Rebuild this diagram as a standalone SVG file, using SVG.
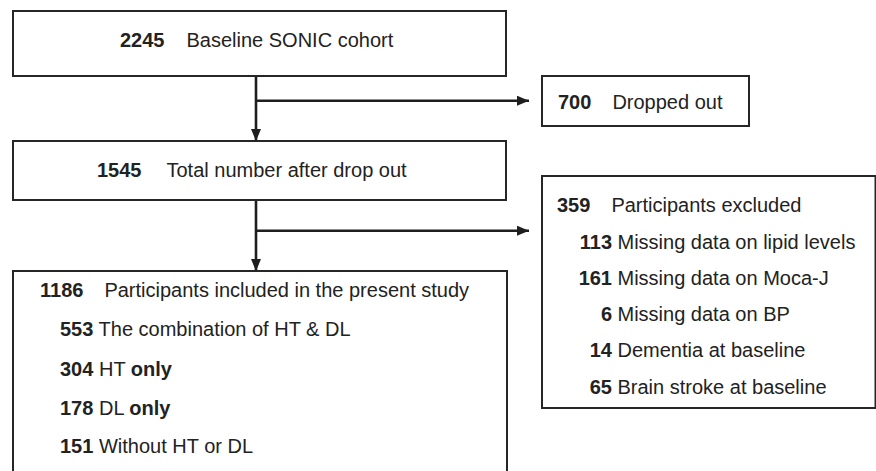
<svg xmlns="http://www.w3.org/2000/svg" width="876" height="471" viewBox="0 0 876 471">
  <style>
    .box { fill: #ffffff; stroke: #262626; stroke-width: 2; }
    .lbl { font-family: "Liberation Sans", Arial, Helvetica, sans-serif; font-size: 20px; fill: #222222; }
    .num { font-weight: bold; }
    .edge { fill: none; stroke: #1e1e1e; stroke-width: 2.6; }
  </style>
  <defs>
    <marker id="arrow" viewBox="0 0 12 10" refX="12" refY="5" markerWidth="12" markerHeight="10" markerUnits="userSpaceOnUse" orient="auto">
      <path d="M0,0 L12,5 L0,10 Z" fill="#1e1e1e"/>
    </marker>
  </defs>

  <rect width="876" height="471" fill="#ffffff"/>

  <!-- connectors -->
  <g id="connectors">
    <line class="edge" x1="256" y1="76" x2="256" y2="141" marker-end="url(#arrow)"/>
    <line class="edge" x1="256" y1="100.7" x2="529" y2="100.7" marker-end="url(#arrow)"/>
    <line class="edge" x1="256" y1="200" x2="256" y2="271" marker-end="url(#arrow)"/>
    <line class="edge" x1="256" y1="230.7" x2="529" y2="230.7" marker-end="url(#arrow)"/>
  </g>

  <!-- baseline cohort -->
  <g id="baseline">
    <rect class="box" x="13" y="11" width="493" height="65"/>
    <text class="lbl" x="120" y="47"><tspan class="num">2245</tspan><tspan dx="22">Baseline SONIC cohort</tspan></text>
  </g>

  <!-- after drop out -->
  <g id="after-dropout">
    <rect class="box" x="13" y="141" width="493" height="59"/>
    <text class="lbl" x="97" y="177"><tspan class="num">1545</tspan><tspan dx="25">Total number after drop out</tspan></text>
  </g>

  <!-- dropped out -->
  <g id="dropped">
    <rect class="box" x="542" y="76" width="207" height="50"/>
    <text class="lbl" x="558" y="109"><tspan class="num">700</tspan><tspan dx="21">Dropped out</tspan></text>
  </g>

  <!-- excluded participants -->
  <g id="excluded">
    <rect class="box" x="542" y="176" width="333.5" height="232"/>
    <text class="lbl" x="557" y="212"><tspan class="num">359</tspan><tspan dx="21">Participants excluded</tspan></text>
    <text class="lbl num" x="612" y="248.5" text-anchor="end">113</text>
    <text class="lbl" x="617.5" y="248.5">Missing data on lipid levels</text>
    <text class="lbl num" x="612" y="284.5" text-anchor="end">161</text>
    <text class="lbl" x="617.5" y="284.5">Missing data on Moca-J</text>
    <text class="lbl num" x="612" y="320.5" text-anchor="end">6</text>
    <text class="lbl" x="617.5" y="320.5">Missing data on BP</text>
    <text class="lbl num" x="612" y="357" text-anchor="end">14</text>
    <text class="lbl" x="617.5" y="357">Dementia at baseline</text>
    <text class="lbl num" x="612" y="394" text-anchor="end">65</text>
    <text class="lbl" x="617.5" y="394">Brain stroke at baseline</text>
  </g>

  <!-- included participants -->
  <g id="included">
    <rect class="box" x="13" y="271" width="494" height="215"/>
    <text class="lbl" x="40" y="297"><tspan class="num">1186</tspan><tspan dx="21">Participants included in the present study</tspan></text>
    <text class="lbl" x="60" y="336"><tspan class="num">553</tspan> The combination of HT &amp; DL</text>
    <text class="lbl" x="60" y="376"><tspan class="num">304</tspan> HT <tspan class="num">only</tspan></text>
    <text class="lbl" x="60" y="415"><tspan class="num">178</tspan> DL <tspan class="num">only</tspan></text>
    <text class="lbl" x="60" y="453"><tspan class="num">151</tspan> Without HT or DL</text>
  </g>
</svg>
